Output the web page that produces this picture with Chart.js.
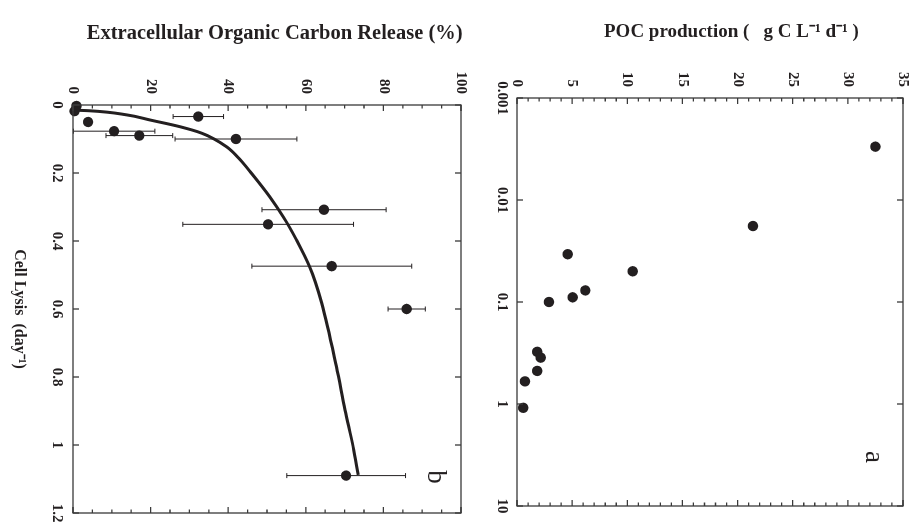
<!DOCTYPE html>
<html>
<head>
  <title>Cell lysis vs POC production and EOC release</title>
  <script src="https://cdn.jsdelivr.net/npm/chart.js"></script>
  <style>
    body {
      margin: 0;
      background: #fff;
      overflow: hidden;
    }

    /* the figure is drawn upright and then turned a quarter clockwise */
    #fig {
      position: absolute;
      left: 0;
      top: 0;
      width: 522px;
      height: 911px;
      transform-origin: 0 0;
      transform: translateX(911px) rotate(90deg);
    }

    #fig canvas {
      position: absolute;
      left: 0;
    }

    #pocChart { top: 0; }
    #eocChart { top: 440px; }
  </style>
</head>
<body>
  <div id="fig">
    <canvas id="pocChart" width="522" height="440"></canvas>
    <canvas id="eocChart" width="522" height="471"></canvas>
  </div>

  <script>
    // cell lysis rate (day-1) of each culture, shared by both panels
    const cellLysis = [0.003, 0.018, 0.034, 0.05, 0.077, 0.09, 0.10, 0.308, 0.351, 0.474, 0.60, 1.09];

    // panel a: POC production
    const pocProduction = [32.5, 21.4, 4.6, 10.5, 6.2, 5.05, 2.9, 1.84, 2.15, 1.84, 0.73, 0.57];

    // panel b: extracellular organic carbon release (%) and its error
    const eocRelease = [0.9, 0.4, 32.3, 3.9, 10.6, 17.1, 42.0, 64.7, 50.3, 66.7, 86.0, 70.4];
    const eocError = [null, null, 6.5, null, 10.5, 8.6, 15.7, 16.0, 22.0, 20.6, 4.8, 15.3];

    // fitted curve in panel b
    const fitLysis = [0.015, 0.017, 0.029, 0.044, 0.064, 0.083, 0.123, 0.160, 0.201, 0.270, 0.329, 0.397, 0.476, 0.583, 0.770, 0.897, 1.005, 1.088];
    const fitEoc = [0, 4.3, 13.8, 19.8, 27.6, 33.2, 39.6, 43.0, 46.0, 50.7, 54.2, 57.6, 61.0, 64.1, 67.9, 70.1, 72.2, 73.5];

    // tick labels
    const lysisTicksLog = [0.001, 0.01, 0.1, 1, 10];
    const lysisTicksLin = [0, 0.2, 0.4, 0.6, 0.8, 1, 1.2];
    const pocTicks = [0, 5, 10, 15, 20, 25, 30, 35];
    const eocTicks = [0, 20, 40, 60, 80, 100];

    const ink = '#231f20';
    const serif = "'Liberation Serif', 'Times New Roman', serif";
    const tickFont = { family: serif, weight: 'bold', size: 15 };

    Chart.defaults.font.family = serif;
    Chart.defaults.color = ink;

    // box round the plot with inward ticks on all four sides
    const frameTicks = {
      id: 'frameTicks',
      afterDatasetsDraw(chart, args, opts) {
        const { ctx, chartArea: a, scales } = chart;
        const marks = (axis) => {
          const o = opts[axis];
          const list = o.major.map(v => [v, 6]);
          if (o.minorStep) {
            const s = scales[axis];
            for (let v = s.min; v <= s.max + 1e-9; v += o.minorStep) {
              if (!o.major.some(m => Math.abs(m - v) < 1e-6)) list.push([v, 3.5]);
            }
          }
          return list;
        };
        ctx.save();
        ctx.strokeStyle = '#3a3a3a';
        ctx.lineWidth = 1.3;
        ctx.strokeRect(a.left, a.top, a.right - a.left, a.bottom - a.top);
        ctx.beginPath();
        marks('x').forEach(([v, len]) => {
          const px = scales.x.getPixelForValue(v);
          ctx.moveTo(px, a.bottom); ctx.lineTo(px, a.bottom - len);
          ctx.moveTo(px, a.top); ctx.lineTo(px, a.top + len);
        });
        marks('y').forEach(([v, len]) => {
          const py = scales.y.getPixelForValue(v);
          ctx.moveTo(a.left, py); ctx.lineTo(a.left + len, py);
          ctx.moveTo(a.right, py); ctx.lineTo(a.right - len, py);
        });
        ctx.stroke();
        ctx.restore();
      }
    };

    // vertical error bars with caps
    const errorBars = {
      id: 'errorBars',
      beforeDatasetsDraw(chart, args, opts) {
        const { ctx, scales: { x, y } } = chart;
        ctx.save();
        ctx.strokeStyle = ink;
        ctx.lineWidth = 1;
        ctx.beginPath();
        eocError.forEach((e, i) => {
          if (e == null) return;
          const px = x.getPixelForValue(cellLysis[i]);
          const lo = y.getPixelForValue(Math.max(0, eocRelease[i] - e));
          const hi = y.getPixelForValue(eocRelease[i] + e);
          ctx.moveTo(px, lo); ctx.lineTo(px, hi);
          ctx.moveTo(px - 2.5, lo); ctx.lineTo(px + 2.5, lo);
          ctx.moveTo(px - 2.5, hi); ctx.lineTo(px + 2.5, hi);
        });
        ctx.stroke();
        ctx.restore();
      }
    };

    // panel letter in the upper right corner
    const panelLabel = {
      id: 'panelLabel',
      afterDraw(chart, args, opts) {
        const { ctx, chartArea: a } = chart;
        ctx.save();
        ctx.fillStyle = ink;
        ctx.font = '27px ' + serif;
        ctx.textAlign = 'center';
        ctx.textBaseline = 'middle';
        ctx.fillText(opts.text, a.right - opts.dx, a.top + opts.dy);
        ctx.restore();
      }
    };

    function fixedTicks(list) {
      return scale => { scale.ticks = list.map(v => ({ value: v })); };
    }

    function fixHeight(h) {
      return scale => { scale.height = h; scale.paddingLeft = 0; scale.paddingRight = 0; };
    }

    function fixWidth(w) {
      return scale => { scale.width = w; scale.paddingTop = 0; scale.paddingBottom = 0; };
    }

    const dots = {
      pointRadius: 5.2,
      pointHoverRadius: 5.2,
      pointBackgroundColor: ink,
      pointBorderWidth: 0,
      showLine: false,
      clip: false
    };

    // panel a
    new Chart(document.getElementById('pocChart'), {
      type: 'scatter',
      data: {
        datasets: [{
          ...dots,
          data: cellLysis.map((x, i) => ({ x, y: pocProduction[i] }))
        }]
      },
      options: {
        responsive: false,
        animation: false,
        layout: { padding: { left: 17, right: 16, top: 8, bottom: 6 } },
        plugins: {
          legend: { display: false },
          tooltip: { enabled: false },
          frameTicks: {
            x: { major: lysisTicksLog },
            y: { major: pocTicks, minorStep: 1 }
          },
          panelLabel: { text: 'a', dx: 49, dy: 30 }
        },
        scales: {
          x: {
            type: 'logarithmic',
            min: 0.001,
            max: 10,
            afterBuildTicks: fixedTicks(lysisTicksLog),
            afterFit: fixHeight(40),
            grid: { display: false, drawTicks: false },
            border: { display: false },
            ticks: { padding: 6, font: tickFont, color: ink, autoSkip: false, maxRotation: 0, callback: v => String(v) }
          },
          y: {
            type: 'linear',
            min: 0,
            max: 35,
            afterBuildTicks: fixedTicks(pocTicks),
            afterFit: fixWidth(81),
            grid: { display: false, drawTicks: false },
            border: { display: false },
            ticks: { padding: 11, font: tickFont, color: ink, callback: v => String(v) },
            title: {
              display: true,
              text: '         POC production (   g C L\u207B\u00B9 d\u207B\u00B9 )',
              color: ink,
              font: { family: serif, weight: 'bold', size: 19 },
              padding: { top: 4, bottom: 4 }
            }
          }
        }
      },
      plugins: [frameTicks, panelLabel]
    });

    // panel b
    new Chart(document.getElementById('eocChart'), {
      type: 'scatter',
      data: {
        datasets: [{
          ...dots,
          order: 0,
          data: cellLysis.map((x, i) => ({ x, y: eocRelease[i] }))
        }, {
          order: 1,
          showLine: true,
          pointRadius: 0,
          borderColor: ink,
          borderWidth: 3,
          cubicInterpolationMode: 'monotone',
          data: fitLysis.map((x, i) => ({ x, y: fitEoc[i] }))
        }]
      },
      options: {
        responsive: false,
        animation: false,
        layout: { padding: { left: 17, right: 9, top: 10, bottom: 6 } },
        plugins: {
          legend: { display: false },
          tooltip: { enabled: false },
          frameTicks: {
            x: { major: lysisTicksLin },
            y: { major: eocTicks, minorStep: 5 }
          },
          panelLabel: { text: 'b', dx: 36, dy: 26 }
        },
        scales: {
          x: {
            type: 'linear',
            min: 0,
            max: 1.2,
            afterBuildTicks: fixedTicks(lysisTicksLin),
            afterFit: fixHeight(67),
            grid: { display: false, drawTicks: false },
            border: { display: false },
            ticks: { padding: 7, font: tickFont, color: ink, autoSkip: false, maxRotation: 0, callback: v => String(v) },
            title: {
              display: true,
              text: 'Cell Lysis  (day\u207B\u00B9)',
              color: ink,
              font: { family: serif, weight: 'bold', size: 16 },
              padding: { top: 4, bottom: 4 }
            }
          },
          y: {
            type: 'linear',
            min: 0,
            max: 100,
            afterBuildTicks: fixedTicks(eocTicks),
            afterFit: fixWidth(88),
            grid: { display: false, drawTicks: false },
            border: { display: false },
            ticks: { padding: 11, font: tickFont, color: ink, callback: v => String(v) },
            title: {
              display: true,
              text: '   Extracellular Organic Carbon Release (%)',
              color: ink,
              font: { family: serif, weight: 'bold', size: 20.5 },
              padding: { top: 4, bottom: 4 }
            }
          }
        }
      },
      plugins: [frameTicks, errorBars, panelLabel]
    });
  </script>
</body>
</html>
